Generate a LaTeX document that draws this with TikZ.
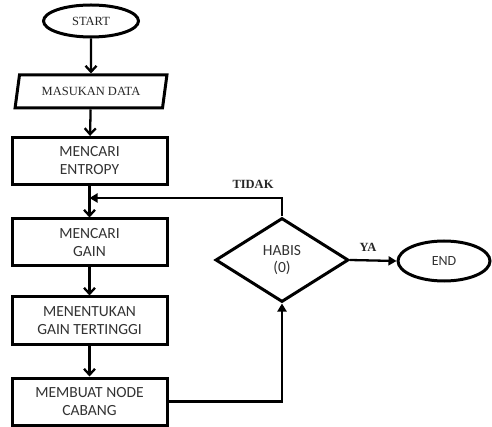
\documentclass[tikz,border=0pt]{standalone}
\usepackage{fontspec}
\setmainfont{Liberation Serif}
\newfontfamily\boxfont{Carlito}
\usetikzlibrary{shapes.geometric,arrows.meta}
\begin{document}
\begin{tikzpicture}[x=1pt,y=-1pt,
  shapeline/.style={draw=black,line width=3pt,fill=white,inner sep=0pt},
  terminal/.style={shapeline,ellipse},
  iobox/.style={shapeline,trapezium,trapezium left angle=70,trapezium right angle=110,
    trapezium stretches=true,minimum width=152pt,minimum height=33pt,
    text=black!85,font=\fontsize{12.5}{14}\selectfont},
  procbox/.style={shapeline,rectangle,minimum width=155pt,minimum height=47pt,
    align=center,text=black!80,font=\boxfont\fontsize{15.5}{18}\selectfont},
  decision/.style={shapeline,diamond,minimum width=133pt,minimum height=84pt,
    align=center,text=black!80,font=\boxfont\fontsize{15.5}{17}\selectfont},
  flow/.style={line width=2.3pt,-{Straight Barb[length=6pt,width=11pt,line width=2.3pt]}},
  flowtip/.style={line width=2.3pt,-{Triangle[length=8pt,width=9pt]}},
  lbl/.style={text=black!85,font=\bfseries\fontsize{12.5}{14}\selectfont}]
\useasboundingbox (0,0) rectangle (492,427);

% terminals, input and process steps
\node[terminal,minimum width=95pt,minimum height=32pt,text=black!85,font=\fontsize{12.5}{14}\selectfont] (start) at (91,21) {START};
\node[iobox] (input) at (91,91.5) {MASUKAN DATA};
\node[procbox] (entropy) at (89.5,161) {MENCARI\\ENTROPY};
\node[procbox] (gain) at (89.5,242.5) {MENCARI\\GAIN};
\node[procbox] (best) at (89.5,320.5) {MENENTUKAN\\GAIN TERTINGGI};
\node[procbox] (branch) at (89.5,401.5) {MEMBUAT NODE\\CABANG};
\node[decision] (empty) at (282,260) {HABIS\\(0)};
\node[terminal,minimum width=92pt,minimum height=40pt,text=black!80,font=\boxfont\fontsize{14}{16}\selectfont] (end) at (444,261) {END};

% junction where the loop rejoins the main flow
\coordinate (rejoin) at (89.5,198);

% main flow
\draw[flow] (start) -- (input);
\draw[flow] (input) -- (entropy);
\draw[flow] (entropy) -- (gain);
\draw[flow] (gain) -- (best);
\draw[flow] (best) -- (branch);

% decision loop
\draw[flowtip] (branch.east) -| (empty.south);
\draw[flowtip] (empty.north) |- (rejoin);
\draw[flowtip] (empty.east) -- (end.west);

% branch labels
\node[lbl] (no) at (253,184) {TIDAK};
\node[lbl] (yes) at (368,247) {YA};
\end{tikzpicture}
\end{document}
